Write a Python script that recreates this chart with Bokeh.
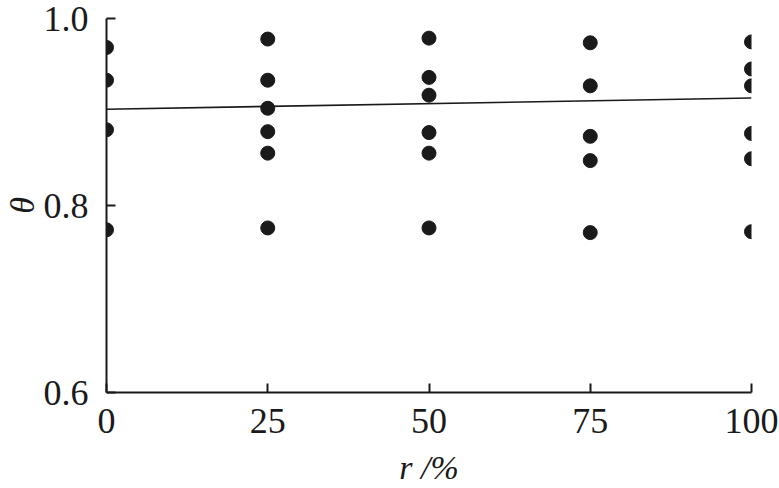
from bokeh.plotting import figure
from bokeh.models import Range1d, FixedTicker
from bokeh.embed import file_html
from bokeh.resources import INLINE

# data
r_0 = [0.969, 0.934, 0.881, 0.774]
r_25 = [0.978, 0.934, 0.904, 0.879, 0.856, 0.776]
r_50 = [0.979, 0.937, 0.918, 0.878, 0.856, 0.776]
r_75 = [0.974, 0.928, 0.874, 0.848, 0.771]
r_100 = [0.975, 0.946, 0.928, 0.877, 0.850, 0.772]
r_levels = [0, 25, 50, 75, 100]
fit_x = [0, 100]
fit_y = [0.903, 0.915]
x_ticks = [0, 25, 50, 75, 100]
y_ticks = [0.6, 0.8, 1.0]
x_title = "r /%"
y_title = "θ"

groups = [r_0, r_25, r_50, r_75, r_100]
xs, ys = [], []
for lvl, vals in zip(r_levels, groups):
    for v in vals:
        xs.append(lvl)
        ys.append(v)

FONT = "Times New Roman"

p = figure(width=779, height=488, output_backend="svg", toolbar_location=None,
           x_range=Range1d(0, 100), y_range=Range1d(0.6, 1.0),
           min_border_left=105, min_border_right=28, min_border_top=18, min_border_bottom=95)
p.outline_line_color = None
p.xgrid.visible = False
p.ygrid.visible = False
p.background_fill_color = "white"
p.border_fill_color = "white"

p.line(fit_x, fit_y, line_color="#1a1a1a", line_width=1.6)
p.scatter(xs, ys, size=14, fill_color="#1a1a1a", line_color="#1a1a1a")

for ax in (p.xaxis[0], p.yaxis[0]):
    ax.axis_line_width = 2
    ax.axis_line_color = "#1a1a1a"
    ax.major_tick_line_width = 2
    ax.major_tick_line_color = "#1a1a1a"
    ax.major_tick_in = 9
    ax.major_tick_out = 0
    ax.minor_tick_line_color = None
    ax.major_label_text_font = FONT
    ax.major_label_text_font_size = "36px"
    ax.major_label_text_color = "#1a1a1a"
    ax.axis_label_text_font = FONT
    ax.axis_label_text_font_size = "34px"
    ax.axis_label_text_font_style = "italic"
    ax.axis_label_text_color = "#1a1a1a"

p.xaxis.ticker = FixedTicker(ticks=x_ticks)
p.yaxis.ticker = FixedTicker(ticks=y_ticks)
p.xaxis.major_label_overrides = {0: "0", 25: "25", 50: "50", 75: "75", 100: "100"}
p.yaxis.major_label_overrides = {0.6: "0.6", 0.8: "0.8", 1.0: "1.0"}
p.xaxis.axis_label = x_title
p.yaxis.axis_label = y_title
p.xaxis.major_label_standoff = 16
p.xaxis.axis_label_standoff = 13
p.yaxis.major_label_standoff = 18
p.yaxis.axis_label_standoff = 0

open("out.html", "w").write(file_html(p, INLINE))
